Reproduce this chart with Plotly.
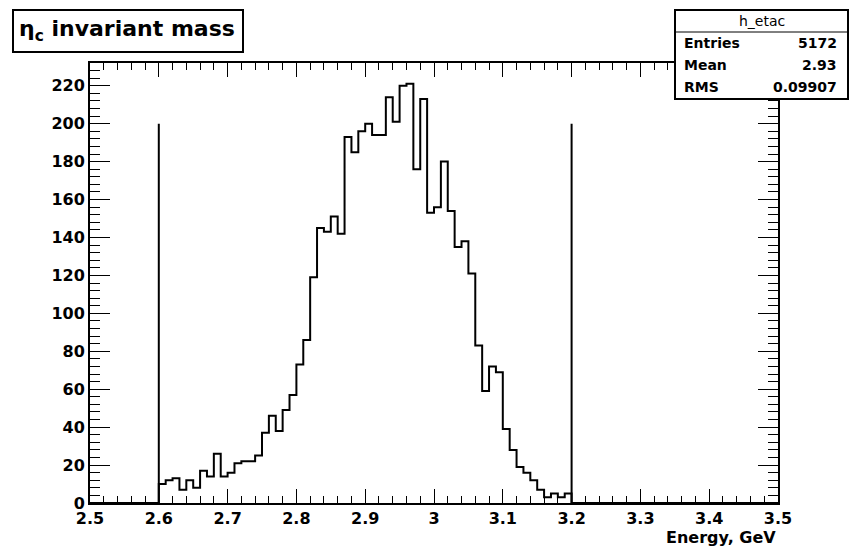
import plotly.graph_objects as go

# ---- data ----
x_min, x_max, bin_width = 2.5, 3.5, 0.01
first_filled_bin = 2.60
counts = [10, 12, 13, 7, 12, 8, 17, 14, 26, 14,
          16, 21, 22, 22, 25, 37, 46, 38, 49, 57,
          73, 86, 119, 145, 143, 151, 142, 193, 185, 196,
          200, 194, 194, 214, 201, 220, 221, 176, 213, 153,
          156, 180, 154, 135, 138, 121, 83, 59, 72, 69,
          39, 28, 19, 16, 12, 7, 3, 5, 3, 5]
cut_positions = [2.6, 3.2]
cut_height = 200
x_tick_vals = [2.5, 2.6, 2.7, 2.8, 2.9, 3.0, 3.1, 3.2, 3.3, 3.4, 3.5]
x_tick_text = ["2.5", "2.6", "2.7", "2.8", "2.9", "3", "3.1", "3.2", "3.3", "3.4", "3.5"]
y_tick_vals = list(range(0, 221, 20))
y_range = [0, 232]
stat_names = ["Entries", "Mean", "RMS"]
stat_values = ["5172", "2.93", "0.09907"]
hist_name = "h_etac"

# ---- build full histogram (zero bins outside filled range) ----
n_bins = int(round((x_max - x_min) / bin_width))
offset = int(round((first_filled_bin - x_min) / bin_width))
full = [0] * n_bins
for i, c in enumerate(counts):
    full[offset + i] = c
edges = [x_min + i * bin_width for i in range(n_bins + 1)]
xs = edges
ys = full + [full[-1]]

FONT = "DejaVu Sans"

fig = go.Figure()
fig.add_trace(go.Scatter(x=xs, y=ys, mode="lines", line=dict(color="black", width=2, shape="hv"),
                         hoverinfo="skip", showlegend=False))
for cx in cut_positions:
    fig.add_trace(go.Scatter(x=[cx, cx], y=[0, cut_height], mode="lines",
                             line=dict(color="black", width=2), showlegend=False, hoverinfo="skip"))

W, H = 853, 549
L, R, T, B = 90, 75, 63, 46
pw, ph = W - L - R, H - T - B

def px(xp):
    return (xp - L) / pw

def py(yp):
    return (H - B - yp) / ph

fig.update_layout(
    width=W, height=H,
    margin=dict(l=L, r=R, t=T, b=B, pad=0),
    paper_bgcolor="white", plot_bgcolor="white",
    font=dict(family=FONT, size=16, color="black"),
    xaxis=dict(range=[x_min, x_max], tickvals=x_tick_vals, ticktext=x_tick_text,
               ticks="inside", ticklen=14, tickwidth=1, tickcolor="black",
               showline=True, linecolor="black", linewidth=2, mirror="ticks",
               showgrid=False, zeroline=False,
               tickfont=dict(family=FONT, size=16, weight="bold"),
               minor=dict(dtick=0.02, ticks="inside", ticklen=7, tickwidth=1, tickcolor="black", showgrid=False)),
    yaxis=dict(range=y_range, tickvals=y_tick_vals,
               ticks="inside", ticklen=20, tickwidth=1, tickcolor="black",
               showline=True, linecolor="black", linewidth=2, mirror="ticks",
               showgrid=False, zeroline=False,
               tickfont=dict(family=FONT, size=16, weight="bold"),
               minor=dict(dtick=4, ticks="inside", ticklen=10, tickwidth=1, tickcolor="black", showgrid=False)),
)

# title box
fig.add_shape(type="rect", xref="paper", yref="paper", x0=px(13), x1=px(243), y0=py(52), y1=py(10),
              line=dict(color="black", width=2), fillcolor="white", layer="above")
fig.add_annotation(xref="paper", yref="paper", x=px(17), y=py(31), xanchor="left", yanchor="middle",
                   text="η<sub>c</sub> invariant mass", showarrow=False,
                   font=dict(family=FONT, size=22, weight="bold", color="black"))

# stats box
fig.add_shape(type="rect", xref="paper", yref="paper", x0=px(675), x1=px(848), y0=py(99), y1=py(10),
              line=dict(color="black", width=2), fillcolor="white", layer="above")
fig.add_shape(type="line", xref="paper", yref="paper", x0=px(675), x1=px(848), y0=py(32), y1=py(32),
              line=dict(color="black", width=1), layer="above")
fig.add_annotation(xref="paper", yref="paper", x=px(762), y=py(21), xanchor="center", yanchor="middle",
                   text=hist_name, showarrow=False, font=dict(family=FONT, size=14, color="black"))
row_y = [43, 65, 87]
for name, val, yy in zip(stat_names, stat_values, row_y):
    fig.add_annotation(xref="paper", yref="paper", x=px(682), y=py(yy), xanchor="left", yanchor="middle",
                       text=name, showarrow=False, font=dict(family=FONT, size=14, weight="bold", color="black"))
    fig.add_annotation(xref="paper", yref="paper", x=px(839), y=py(yy), xanchor="right", yanchor="middle",
                       text=val, showarrow=False, font=dict(family=FONT, size=14, weight="bold", color="black"))

# x-axis title
fig.add_annotation(xref="paper", yref="paper", x=px(778), y=py(537), xanchor="right", yanchor="middle",
                   text="Energy, GeV", showarrow=False, font=dict(family=FONT, size=16, weight="bold", color="black"))

fig.write_html("out.html", config={"displayModeBar": False})

# remove the default page margin so the figure sits at the window's corner
with open("out.html", "r", encoding="utf-8") as f:
    html = f.read()
html = html.replace("<body>", '<body style="margin:0;padding:0;">', 1)
with open("out.html", "w", encoding="utf-8") as f:
    f.write(html)
